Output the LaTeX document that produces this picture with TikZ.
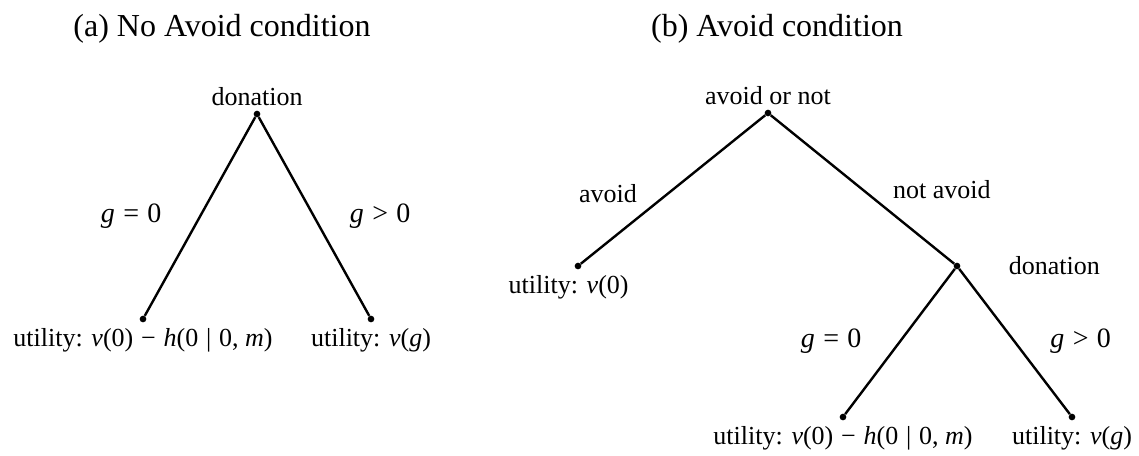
\documentclass[tikz,border=0pt]{standalone}
\usepackage{fontspec}
\setmainfont{Liberation Serif}
\usetikzlibrary{positioning}
\newcommand{\relsp}[1]{\hspace{.3em}#1\hspace{.3em}}

\begin{document}
\begin{tikzpicture}[x=0.75pt, y=-0.75pt, node distance=2pt,
  every node/.style={font=\fontsize{19.5}{23}\selectfont, inner sep=1pt},
  title/.style={font=\fontsize{24}{28}\selectfont, anchor=base},
  cond/.style={font=\fontsize{21}{24}\selectfont},
  dot/.style={circle, fill, inner sep=0pt, minimum size=5pt},
  branch/.style={line width=1.8pt}]
  \useasboundingbox (0,0) rectangle (1139,455);

  % (a) no avoid
  \node[title] (ta) at (222,36) {(a) No Avoid condition};
  \node[dot] (a0) at (257,114) {};
  \node[dot] (a1) at (143,319) {};
  \node[dot] (a2) at (371,319) {};
  \node[above=of a0] (da) {donation};
  \node[below=3pt of a1] (ua1) {utility: \textit{v}(0)\relsp{−}\textit{h}(0\relsp{|}0, \textit{m})};
  \node[below=3pt of a2] (ua2) {utility: \textit{v}(\textit{g})};
  \draw[branch] (a0) -- node[cond, left=27pt] {\textit{g}\relsp{=}0} (a1);
  \draw[branch] (a0) -- node[cond, right=25pt] {\textit{g}\relsp{>}0} (a2);

  % (b) avoid
  \node[title] (tb) at (777,36) {(b) Avoid condition};
  \node[dot] (b0) at (768,113) {};
  \node[dot] (b1) at (578,266) {};
  \node[dot] (b2) at (957,266) {};
  \node[dot] (b3) at (843,417) {};
  \node[dot] (b4) at (1072,417) {};
  \node[above=of b0] (ch) {avoid or not};
  \node[right=35pt of b2] (db) {donation};
  \node[below=3pt of b1, xshift=-7pt] (ub1) {utility: \textit{v}(0)};
  \node[below=3pt of b3] (ub3) {utility: \textit{v}(0)\relsp{−}\textit{h}(0\relsp{|}0, \textit{m})};
  \node[below=3pt of b4] (ub4) {utility: \textit{v}(\textit{g})};
  \draw[branch] (b0) -- node[left=21pt, pos=0.53] {avoid} (b1);
  \draw[branch] (b0) -- node[right=21pt] {not avoid} (b2);
  \draw[branch] (b2) -- node[cond, left=27pt] {\textit{g}\relsp{=}0} (b3);
  \draw[branch] (b2) -- node[cond, right=25pt] {\textit{g}\relsp{>}0} (b4);
\end{tikzpicture}
\end{document}
